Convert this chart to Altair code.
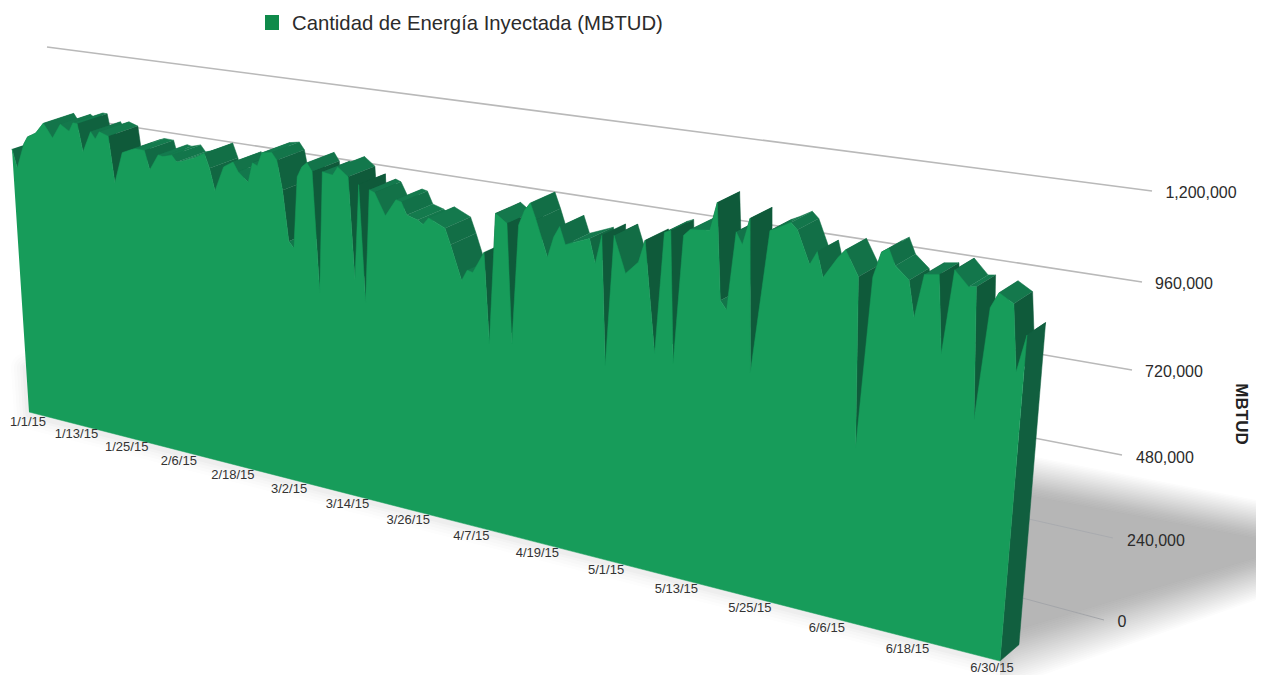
import altair as alt, pandas as pd

DAYS = [0,1,3,4,6,8,10,12,14,15,16,17,19,20,21,23,24,26,28,29,31,32,34,35,37,38,39,42,44,45,46,48,50,51,53,54,55,56,58,59,60,61,62,63,64,65,66,67,68,70,71,73,74,75,76,77,78,80,82,83,84,86,87,88,91,92,94,95,96,98,99,100,102,103,104,105,106,107,109,110,111,112,116,117,118,119,120,122,124,125,127,128,129,130,131,132,135,136,137,138,139,140,141,142,144,145,147,148,150,151,152,154,155,157,158,159,160,161,162,164,165,166,168,169,170,172,173,174,175,176,178,179,180]
VALUES_K = [941,877,965,991,1008,1046,1000,1051,1032,1062,1061,969,1041,1019,1045,1035,882,987,1001,1007,1006,944,998,995,1004,984,988,1007,1026,981,910,992,1012,984,955,1019,1012,1055,1061,1039,947,788,769,996,1030,1045,1020,642,1024,1019,1046,1021,704,1002,638,991,985,919,973,969,932,922,911,934,911,864,762,796,792,858,586,979,955,600,954,1001,1025,979,875,936,970,920,949,880,964,588,969,866,904,969,651,999,1007,633,999,1018,1024,1103,835,812,1031,999,1073,649,1048,1057,1078,1061,973,1011,944,1004,1027,961,496,966,1035,1047,1005,973,877,994,1000,793,1018,980,983,637,935,977,955,782,881]
TICK_DAYS = [0,12,24,36,48,60,72,84,96,108,120,132,144,156,168,180]
TICK_LABELS = ["1/1/15","1/13/15","1/25/15","2/6/15","2/18/15","3/2/15","3/14/15","3/26/15","4/7/15","4/19/15","5/1/15","5/13/15","5/25/15","6/6/15","6/18/15","6/30/15"]
AXIS_LABELS = ["1,200,000","960,000","720,000","480,000","240,000","0"]
AXIS_X = [1201,1184,1174,1165,1156,1122]
AXIS_Y = [193,284,372,458,541,622]
GRID = [(47,47,1152,191,"#b9b9b9",1.6),(100,122,1142,282,"#b9b9b9",1.6),(900,330,1132,370,"#b9b9b9",1.6),(900,412,1122,455,"#b9b9b9",1.6),(900,490,1113,538,"#a9abaf",1),(900,565,1104,620,"#a3a5a9",1)]
LEGEND = "Cantidad de Energía Inyectada (MBTUD)"

def project(day, v_k, back=False):
    u, q = day/180, v_k/25000
    w = 1-.2645*u-q
    x = (29+706.5*u-464*q)/w
    y = (412+74.2*u-7139*q)/w
    if back:
        x, y = x+.012*(2578-x), y+.012*(-704-y)
    return x, y

def mix(a, b, t):
    a = [int(a[i:i+2],16) for i in (1,3,5)]; b = [int(b[i:i+2],16) for i in (1,3,5)]
    return "#%02x%02x%02x" % tuple(round(p+(r-p)*t) for p, r in zip(a, b))

X = alt.Scale(domain=[8,1256], nice=False, zero=False)
Y = alt.Scale(domain=[675,8], nice=False, zero=False)
def xe(f="sx"): return alt.X(f+":Q", scale=X, axis=None)
def ye(f="sy"): return alt.Y(f+":Q", scale=Y, axis=None)

# shadow: many faint nested wedges give a soft edge
sh = []
N = 26
for k in range(N):
    t = k/(N-1)
    sh += [dict(k=k, sx=1000, sy=450+40*t, sy2=690-55*t), dict(k=k, sx=1256, sy=500+38*t, sy2=600-42*t)]
shadow = alt.Chart(pd.DataFrame(sh)).mark_area(fill="#2f3440", opacity=.016).encode(x=xe(), y=ye(), y2="sy2:Q", detail="k:N")

# soft contact shadow along left edge and base
edge = [project(0,170), project(0,0), project(180,0)]
edgeS = []
for wd, op in [(30,.012),(24,.014),(18,.016),(12,.02),(7,.025)]:
    rows = [dict(i=i, sx=p[0], sy=p[1]+2) for i, p in enumerate(edge)]
    edgeS.append(alt.Chart(pd.DataFrame(rows)).mark_line(stroke="#33363c", opacity=op, strokeWidth=wd, strokeJoin="round", strokeCap="round").encode(x=xe(), y=ye(), order="i:Q"))

# gridlines
gr = []
for i, (x1,y1,x2,y2,c,s) in enumerate(GRID):
    gr.append(dict(sx=x1, sy=y1, sx2=x2, sy2=y2, c=c, s=s))
grid = alt.Chart(pd.DataFrame(gr)).mark_rule().encode(x=xe(), y=ye(), x2="sx2:Q", y2="sy2:Q", stroke=alt.Stroke("c:N", scale=None), strokeWidth=alt.StrokeWidth("s:Q", scale=None))

# top ribbon faces, painted from the far left to the near right
rb = []
for s in range(len(DAYS)-1):
    d0, d1, v0, v1 = DAYS[s], DAYS[s+1], VALUES_K[s], VALUES_K[s+1]
    rate = abs(v1-v0)/(d1-d0)
    col = mix("#147b4e", "#0f5a3a", min(rate/120, 1))
    pts = [project(d0,v0), project(d1,v1), project(d1,v1,True), project(d0,v0,True)]
    rb += [dict(seg=s, i=i, sx=p[0], sy=p[1], c=col) for i, p in enumerate(pts)]
ribbon = alt.Chart(pd.DataFrame(rb)).mark_line(strokeWidth=.5).encode(
    x=xe(), y=ye(), order="i:Q", detail="seg:N",
    fill=alt.Fill("c:N", scale=None), stroke=alt.Stroke("c:N", scale=None))

# right end face
end = [project(180,0), project(180,0,True), project(180,VALUES_K[-1],True), project(180,VALUES_K[-1])]
side = alt.Chart(pd.DataFrame([dict(i=i, sx=p[0], sy=p[1]) for i, p in enumerate(end)])).mark_line(fill="#115f3f", stroke="#115f3f", strokeWidth=.5).encode(x=xe(), y=ye(), order="i:Q")

# front face
fr = [project(d,v) for d, v in zip(DAYS, VALUES_K)] + [project(180,0), project(0,0)]
front = alt.Chart(pd.DataFrame([dict(i=i, sx=p[0], sy=p[1]) for i, p in enumerate(fr)])).mark_line(fill="#179c5a", stroke="#179c5a", strokeWidth=.5).encode(x=xe(), y=ye(), order="i:Q")

# date labels
tk = []
for d, l in zip(TICK_DAYS, TICK_LABELS):
    bx, by = project(d, 0)
    shift = 1 + 7*max(0, (d/180-2/3)*3)
    tk.append(dict(sx=bx-shift, sy=min(by+10, 668), t=l))
ticks = alt.Chart(pd.DataFrame(tk)).mark_text(font="Liberation Sans", fontSize=13, color="#333333", baseline="middle").encode(x=xe(), y=ye(), text="t:N")

ax = alt.Chart(pd.DataFrame(dict(sx=AXIS_X, sy=AXIS_Y, t=AXIS_LABELS))).mark_text(font="Liberation Sans", fontSize=16, color="#2b2b2b", baseline="middle").encode(x=xe(), y=ye(), text="t:N")
title = alt.Chart(pd.DataFrame(dict(sx=[1241], sy=[414], t=["MBTUD"]))).mark_text(font="Liberation Sans", fontSize=17, fontWeight="bold", color="#222222", angle=90, baseline="middle").encode(x=xe(), y=ye(), text="t:N")

swatch = alt.Chart(pd.DataFrame(dict(sx=[265], sx2=[279], sy=[15], sy2=[30]))).mark_rect(color="#0f8a4a").encode(x=xe(), x2="sx2:Q", y=ye(), y2="sy2:Q")
legend = alt.Chart(pd.DataFrame(dict(sx=[292], sy=[24], t=[LEGEND]))).mark_text(font="Liberation Sans", fontSize=20.3, color="#2b2b2b", align="left", baseline="middle").encode(x=xe(), y=ye(), text="t:N")

chart = alt.layer(shadow, *edgeS, grid, ribbon, side, front, ticks, ax, title, swatch, legend).properties(
    width=1248, height=667, padding=0, autosize=alt.AutoSizeParams(type="none")
).configure_view(stroke=None)
chart.save("out.html", embed_options={"renderer":"svg","actions":False})
